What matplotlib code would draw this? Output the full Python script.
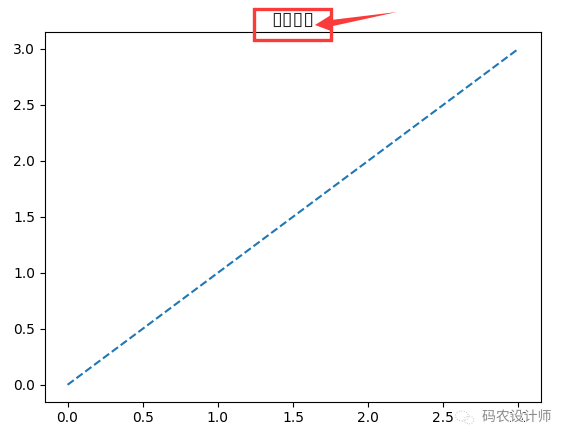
#!/usr/bin/env python3
import matplotlib
matplotlib.use("Agg")
import matplotlib.pyplot as plt
import matplotlib.patheffects as pe
from matplotlib.patches import Circle, Polygon, Rectangle

W, H = 569, 442

# data
x_vals = [0, 1, 2, 3]
y_vals = [0, 1, 2, 3]
title_text = "\u25af\u25af\u25af\u25af"  # the original title shows up as empty boxes
watermark = "码农设计师"

def fx(px):
    return px / W

def fy(py):
    return 1 - py / H

fig = plt.figure(figsize=(W / 100, H / 100), dpi=100)
ax = fig.add_axes([fx(45), fy(401.6), fx(541) - fx(45), fy(32) - fy(401.6)])
ax.plot(x_vals, y_vals, "--")
ax.set_title(title_text, fontsize=14, pad=5, color="#222222")

# red box + arrow pasted on top of the title
fig.add_artist(Rectangle((fx(253.5), fy(40)), fx(331) - fx(253.5), fy(8.5) - fy(40),
                         transform=fig.transFigure, fill=False,
                         edgecolor="#fb3a3a", lw=2.4))
arrow_px = [(315, 25), (331, 15), (331, 20), (397, 12), (333, 26), (331, 31)]
fig.add_artist(Polygon([(fx(a), fy(b)) for a, b in arrow_px],
                       transform=fig.transFigure, facecolor="#fb3a3a",
                       edgecolor="none"))

# watermark bottom right
fig.text(fx(482), fy(417), watermark, family=["Noto Sans CJK SC", "DejaVu Sans"],
         fontsize=10, color="#8a8a8a", va="center", ha="left",
         path_effects=[pe.withStroke(linewidth=1.5, foreground="white")])
for cx, cy, r in [(462, 416, 6.5), (469, 420, 5)]:
    fig.add_artist(Circle((fx(cx), fy(cy)), r / W, transform=fig.transFigure,
                          fill=False, edgecolor="#c4c4c4", lw=0.7, ls=":"))

fig.savefig("out.png", dpi=100)
